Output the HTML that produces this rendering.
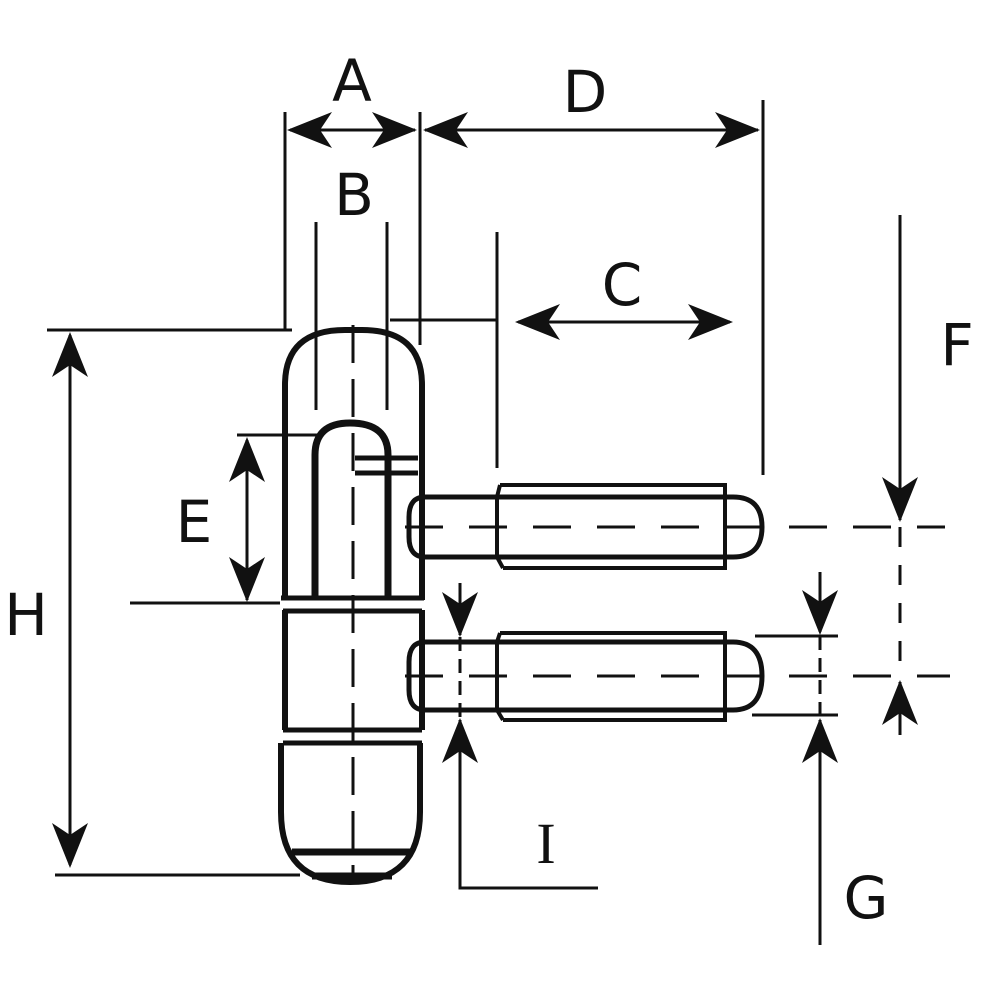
<!DOCTYPE html>
<html><head><meta charset="utf-8"><style>html,body{margin:0;padding:0;background:#fff}svg{display:block}</style></head>
<body>
<svg width="991" height="991" viewBox="0 0 991 991" xmlns="http://www.w3.org/2000/svg">
<g fill="none" stroke="#111" stroke-linecap="butt">
 <!-- body -->
 <path d="M285,600 L285,385 Q285,330 345,330 L362,330 Q422,330 422,385 L422,600" stroke-width="6"/>
 <path d="M285,610 L285,730 M422,610 L422,730" stroke-width="6"/>
 <path d="M281,598 H424 M283,611 H422 M283,730 H422 M283,743 H422" stroke-width="5"/>
 <path d="M281,743 L281,812 Q281,882 350,882 Q420,882 420,812 L420,743" stroke-width="6"/>
 <path d="M292,852 H412" stroke-width="7"/>
 <path d="M312,876 H392" stroke-width="7"/>
 <!-- inner slot -->
 <path d="M315,598 L315,455 Q315,423 350,423 Q388,423 388,455 L388,598" stroke-width="7"/>
 <path d="M355,458 H418 M355,473 H418" stroke-width="5"/>
 <!-- upper pin -->
 <path d="M497,497 H425 Q409,497 409,517 L409,537 Q409,557 425,557 H497" stroke-width="5"/>
 <path d="M497,497 H733 Q762,497 762,527 Q762,557 733,557 H497" stroke-width="5"/>
 <path d="M500,485 L497,497 L497,557 L503,568 M500,485 H725 V568 H503" stroke-width="4"/>
 <!-- lower pin -->
 <path d="M497,642 H425 Q409,642 409,662 L409,690 Q409,710 425,710 H497" stroke-width="5"/>
 <path d="M497,642 H733 Q762,642 762,676 Q762,710 733,710 H497" stroke-width="5"/>
 <path d="M500,633 L497,642 L497,710 L503,720 M500,633 H725 V720 H503" stroke-width="4"/>
 <!-- centerlines -->
 <path d="M353,325 V880" stroke-width="3" stroke-dasharray="38,16"/>
 <path d="M405,527 H945" stroke-width="3" stroke-dasharray="38,26"/>
 <path d="M405,676 H950" stroke-width="3" stroke-dasharray="38,26"/>
 <path d="M900,527 V676" stroke-width="3" stroke-dasharray="20,18"/>
 <path d="M460,637 V718 M820,636 V715" stroke-width="3" stroke-dasharray="14,8"/>
 <!-- dimension lines -->
 <g stroke-width="3">
  <path d="M285,112 V330 M420,112 V345 M763,100 V475"/>
  <path d="M290,130 H415 M425,130 H758"/>
  <path d="M316,222 V410 M387,222 V410"/>
  <path d="M497,232 V468 M390,320 H497 M518,322 H730"/>
  <path d="M900,215 V520 M900,682 V735"/>
  <path d="M820,572 V632 M755,636 H838 M752,715 H838 M820,720 V945"/>
  <path d="M460,583 V635 M460,720 V888 H598"/>
  <path d="M247,440 V600 M237,435 H320 M130,603 H280"/>
  <path d="M70,335 V865 M47,330 H292 M55,875 H300"/>
 </g>
</g>
<g fill="#111">
 <path d="M287,130 L332,112 L320,130 L332,148 Z"/>
 <path d="M417,130 L372,112 L384,130 L372,148 Z"/>
 <path d="M423,130 L468,112 L456,130 L468,148 Z"/>
 <path d="M760,130 L715,112 L727,130 L715,148 Z"/>
 <path d="M515,322 L560,304 L548,322 L560,340 Z"/>
 <path d="M733,322 L688,304 L700,322 L688,340 Z"/>
 <path d="M247,437 L229,482 L247,470 L265,482 Z"/>
 <path d="M247,602 L229,557 L247,569 L265,557 Z"/>
 <path d="M70,332 L52,377 L70,365 L88,377 Z"/>
 <path d="M70,868 L52,823 L70,835 L88,823 Z"/>
 <path d="M900,522 L882,477 L900,489 L918,477 Z"/>
 <path d="M900,680 L882,725 L900,713 L918,725 Z"/>
 <path d="M820,635 L802,590 L820,602 L838,590 Z"/>
 <path d="M820,718 L802,763 L820,751 L838,763 Z"/>
 <path d="M460,637 L442,592 L460,604 L478,592 Z"/>
 <path d="M460,718 L442,763 L460,751 L478,763 Z"/>
</g>
<g font-family="'DejaVu Sans','Liberation Sans',sans-serif" font-size="58" fill="#111" text-anchor="middle">
 <text x="352" y="101">A</text>
 <text x="585" y="112">D</text>
 <text x="354" y="215">B</text>
 <text x="622" y="305">C</text>
 <text x="957" y="365">F</text>
 <text x="194" y="542">E</text>
 <text x="26" y="635">H</text>
 <text x="546" y="863" font-family="'Liberation Serif',serif">I</text>
 <text x="866" y="918">G</text>
</g>
</svg>
</body></html>
